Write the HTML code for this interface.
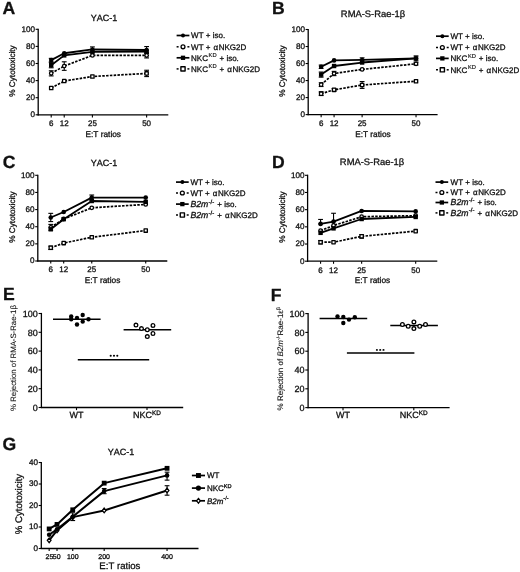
<!DOCTYPE html><html><head><meta charset="utf-8"><style>html,body{margin:0;padding:0;background:#fff;}svg{display:block;will-change:transform;} text{text-rendering:geometricPrecision;font-kerning:none;stroke:#111;stroke-width:0.3px;}</style></head><body><svg width="520" height="572" viewBox="0 0 520 572" font-family='"Liberation Sans", sans-serif' fill="#111" stroke-linejoin="round">
<rect width="520" height="572" fill="#fff"/>
<line x1="38.2" y1="28.7" x2="38.2" y2="115.4" stroke="#000" stroke-width="1.3"/>
<line x1="37.6" y1="114.8" x2="168.3" y2="114.8" stroke="#000" stroke-width="1.3"/>
<line x1="35.6" y1="114.8" x2="38.2" y2="114.8" stroke="#000" stroke-width="1.1"/>
<text x="35" y="117.1" font-size="8.1" text-anchor="end" font-weight="normal"  style="">0</text>
<line x1="35.6" y1="97.7" x2="38.2" y2="97.7" stroke="#000" stroke-width="1.1"/>
<text x="35" y="100" font-size="8.1" text-anchor="end" font-weight="normal"  style="">20</text>
<line x1="35.6" y1="80.6" x2="38.2" y2="80.6" stroke="#000" stroke-width="1.1"/>
<text x="35" y="82.9" font-size="8.1" text-anchor="end" font-weight="normal"  style="">40</text>
<line x1="35.6" y1="63.5" x2="38.2" y2="63.5" stroke="#000" stroke-width="1.1"/>
<text x="35" y="65.8" font-size="8.1" text-anchor="end" font-weight="normal"  style="">60</text>
<line x1="35.6" y1="46.4" x2="38.2" y2="46.4" stroke="#000" stroke-width="1.1"/>
<text x="35" y="48.7" font-size="8.1" text-anchor="end" font-weight="normal"  style="">80</text>
<line x1="35.6" y1="29.3" x2="38.2" y2="29.3" stroke="#000" stroke-width="1.1"/>
<text x="35" y="31.6" font-size="8.1" text-anchor="end" font-weight="normal"  style="">100</text>
<line x1="51.21" y1="114.8" x2="51.21" y2="117.4" stroke="#000" stroke-width="1.1"/>
<text x="51.21" y="126.1" font-size="8" text-anchor="middle" font-weight="normal"  style="">6</text>
<line x1="64.22" y1="114.8" x2="64.22" y2="117.4" stroke="#000" stroke-width="1.1"/>
<text x="64.22" y="126.1" font-size="8" text-anchor="middle" font-weight="normal"  style="">12</text>
<line x1="92.41" y1="114.8" x2="92.41" y2="117.4" stroke="#000" stroke-width="1.1"/>
<text x="92.41" y="126.1" font-size="8" text-anchor="middle" font-weight="normal"  style="">25</text>
<line x1="146.62" y1="114.8" x2="146.62" y2="117.4" stroke="#000" stroke-width="1.1"/>
<text x="146.62" y="126.1" font-size="8" text-anchor="middle" font-weight="normal"  style="">50</text>
<text x="103.25" y="137.2" font-size="8.3" text-anchor="middle" font-weight="normal"  style="">E:T ratios</text>
<text x="0" y="0" font-size="8.2" text-anchor="middle" font-weight="normal" transform="translate(14.8,71) rotate(-90)" style="">% Cytotoxicity</text>
<text x="104" y="20.6" font-size="9" text-anchor="middle" font-weight="normal"  style="">YAC-1</text>
<text x="2.6" y="13.9" font-size="17.6" text-anchor="start" font-weight="bold"  style="">A</text>
<polyline points="51.21,73.33 64.22,66.06 92.41,55.38 146.62,55.38" fill="none" stroke="#000" stroke-width="1.7" stroke-linejoin="round" stroke-dasharray="2.5,1.3"/>
<line x1="51.21" y1="70.77" x2="51.21" y2="75.9" stroke="#000" stroke-width="1.1"/>
<line x1="48.81" y1="70.77" x2="53.61" y2="70.77" stroke="#000" stroke-width="1.1"/>
<line x1="48.81" y1="75.9" x2="53.61" y2="75.9" stroke="#000" stroke-width="1.1"/>
<line x1="64.22" y1="61.79" x2="64.22" y2="70.34" stroke="#000" stroke-width="1.1"/>
<line x1="61.82" y1="61.79" x2="66.62" y2="61.79" stroke="#000" stroke-width="1.1"/>
<line x1="61.82" y1="70.34" x2="66.62" y2="70.34" stroke="#000" stroke-width="1.1"/>
<line x1="146.62" y1="52.81" x2="146.62" y2="57.94" stroke="#000" stroke-width="1.1"/>
<line x1="144.22" y1="52.81" x2="149.02" y2="52.81" stroke="#000" stroke-width="1.1"/>
<line x1="144.22" y1="57.94" x2="149.02" y2="57.94" stroke="#000" stroke-width="1.1"/>
<circle cx="51.21" cy="73.33" r="1.75" fill="#fff" stroke="#000" stroke-width="1.3"/>
<circle cx="64.22" cy="66.06" r="1.75" fill="#fff" stroke="#000" stroke-width="1.3"/>
<circle cx="92.41" cy="55.38" r="1.75" fill="#fff" stroke="#000" stroke-width="1.3"/>
<circle cx="146.62" cy="55.38" r="1.75" fill="#fff" stroke="#000" stroke-width="1.3"/>
<polyline points="51.21,88.04 64.22,81.03 92.41,76.5 146.62,73.42" fill="none" stroke="#000" stroke-width="1.7" stroke-linejoin="round" stroke-dasharray="2.5,1.3"/>
<line x1="146.62" y1="70.25" x2="146.62" y2="76.58" stroke="#000" stroke-width="1.1"/>
<line x1="144.22" y1="70.25" x2="149.02" y2="70.25" stroke="#000" stroke-width="1.1"/>
<line x1="144.22" y1="76.58" x2="149.02" y2="76.58" stroke="#000" stroke-width="1.1"/>
<rect x="49.56" y="86.39" width="3.3" height="3.3" fill="#fff" stroke="#000" stroke-width="1.3"/>
<rect x="62.57" y="79.38" width="3.3" height="3.3" fill="#fff" stroke="#000" stroke-width="1.3"/>
<rect x="90.76" y="74.85" width="3.3" height="3.3" fill="#fff" stroke="#000" stroke-width="1.3"/>
<rect x="144.97" y="71.77" width="3.3" height="3.3" fill="#fff" stroke="#000" stroke-width="1.3"/>
<polyline points="51.21,65.21 64.22,55.38 92.41,51.96 146.62,51.53" fill="none" stroke="#000" stroke-width="1.8" stroke-linejoin="round"/>
<line x1="51.21" y1="62.64" x2="51.21" y2="67.78" stroke="#000" stroke-width="1.1"/>
<line x1="48.81" y1="62.64" x2="53.61" y2="62.64" stroke="#000" stroke-width="1.1"/>
<line x1="48.81" y1="67.78" x2="53.61" y2="67.78" stroke="#000" stroke-width="1.1"/>
<rect x="49.01" y="63.01" width="4.4" height="4.4" fill="#000"/>
<rect x="62.02" y="53.18" width="4.4" height="4.4" fill="#000"/>
<rect x="90.21" y="49.76" width="4.4" height="4.4" fill="#000"/>
<rect x="144.42" y="49.33" width="4.4" height="4.4" fill="#000"/>
<polyline points="51.21,60.08 64.22,53.24 92.41,49.48 146.62,49.99" fill="none" stroke="#000" stroke-width="1.8" stroke-linejoin="round"/>
<line x1="51.21" y1="58.37" x2="51.21" y2="61.79" stroke="#000" stroke-width="1.1"/>
<line x1="48.81" y1="58.37" x2="53.61" y2="58.37" stroke="#000" stroke-width="1.1"/>
<line x1="48.81" y1="61.79" x2="53.61" y2="61.79" stroke="#000" stroke-width="1.1"/>
<line x1="92.41" y1="46.91" x2="92.41" y2="52.04" stroke="#000" stroke-width="1.1"/>
<line x1="90.01" y1="46.91" x2="94.81" y2="46.91" stroke="#000" stroke-width="1.1"/>
<line x1="90.01" y1="52.04" x2="94.81" y2="52.04" stroke="#000" stroke-width="1.1"/>
<line x1="146.62" y1="46.57" x2="146.62" y2="53.41" stroke="#000" stroke-width="1.1"/>
<line x1="144.22" y1="46.57" x2="149.02" y2="46.57" stroke="#000" stroke-width="1.1"/>
<line x1="144.22" y1="53.41" x2="149.02" y2="53.41" stroke="#000" stroke-width="1.1"/>
<circle cx="51.21" cy="60.08" r="2.3" fill="#000"/>
<circle cx="64.22" cy="53.24" r="2.3" fill="#000"/>
<circle cx="92.41" cy="49.48" r="2.3" fill="#000"/>
<circle cx="146.62" cy="49.99" r="2.3" fill="#000"/>
<line x1="308.2" y1="28.9" x2="308.2" y2="115.2" stroke="#000" stroke-width="1.3"/>
<line x1="307.6" y1="114.6" x2="437.6" y2="114.6" stroke="#000" stroke-width="1.3"/>
<line x1="305.6" y1="114.6" x2="308.2" y2="114.6" stroke="#000" stroke-width="1.1"/>
<text x="305" y="116.9" font-size="8.1" text-anchor="end" font-weight="normal"  style="">0</text>
<line x1="305.6" y1="97.58" x2="308.2" y2="97.58" stroke="#000" stroke-width="1.1"/>
<text x="305" y="99.88" font-size="8.1" text-anchor="end" font-weight="normal"  style="">20</text>
<line x1="305.6" y1="80.56" x2="308.2" y2="80.56" stroke="#000" stroke-width="1.1"/>
<text x="305" y="82.86" font-size="8.1" text-anchor="end" font-weight="normal"  style="">40</text>
<line x1="305.6" y1="63.54" x2="308.2" y2="63.54" stroke="#000" stroke-width="1.1"/>
<text x="305" y="65.84" font-size="8.1" text-anchor="end" font-weight="normal"  style="">60</text>
<line x1="305.6" y1="46.52" x2="308.2" y2="46.52" stroke="#000" stroke-width="1.1"/>
<text x="305" y="48.82" font-size="8.1" text-anchor="end" font-weight="normal"  style="">80</text>
<line x1="305.6" y1="29.5" x2="308.2" y2="29.5" stroke="#000" stroke-width="1.1"/>
<text x="305" y="31.8" font-size="8.1" text-anchor="end" font-weight="normal"  style="">100</text>
<line x1="321.14" y1="114.6" x2="321.14" y2="117.2" stroke="#000" stroke-width="1.1"/>
<text x="321.14" y="125.9" font-size="8" text-anchor="middle" font-weight="normal"  style="">6</text>
<line x1="334.08" y1="114.6" x2="334.08" y2="117.2" stroke="#000" stroke-width="1.1"/>
<text x="334.08" y="125.9" font-size="8" text-anchor="middle" font-weight="normal"  style="">12</text>
<line x1="362.12" y1="114.6" x2="362.12" y2="117.2" stroke="#000" stroke-width="1.1"/>
<text x="362.12" y="125.9" font-size="8" text-anchor="middle" font-weight="normal"  style="">25</text>
<line x1="416.03" y1="114.6" x2="416.03" y2="117.2" stroke="#000" stroke-width="1.1"/>
<text x="416.03" y="125.9" font-size="8" text-anchor="middle" font-weight="normal"  style="">50</text>
<text x="372.9" y="137.2" font-size="8.3" text-anchor="middle" font-weight="normal"  style="">E:T ratios</text>
<text x="0" y="0" font-size="8.2" text-anchor="middle" font-weight="normal" transform="translate(285.1,71) rotate(-90)" style="">% Cytotoxicity</text>
<text x="373" y="16.8" font-size="9.4" text-anchor="middle" font-weight="normal"  style="">RMA-S-Rae-1β</text>
<text x="272" y="13.9" font-size="17.6" text-anchor="start" font-weight="bold"  style="">B</text>
<polyline points="321.14,84.64 334.08,73.5 362.12,69.41 416.03,63.8" fill="none" stroke="#000" stroke-width="1.7" stroke-linejoin="round" stroke-dasharray="2.5,1.3"/>
<line x1="321.14" y1="82.77" x2="321.14" y2="86.52" stroke="#000" stroke-width="1.1"/>
<line x1="318.74" y1="82.77" x2="323.54" y2="82.77" stroke="#000" stroke-width="1.1"/>
<line x1="318.74" y1="86.52" x2="323.54" y2="86.52" stroke="#000" stroke-width="1.1"/>
<line x1="334.08" y1="71.37" x2="334.08" y2="75.62" stroke="#000" stroke-width="1.1"/>
<line x1="331.68" y1="71.37" x2="336.48" y2="71.37" stroke="#000" stroke-width="1.1"/>
<line x1="331.68" y1="75.62" x2="336.48" y2="75.62" stroke="#000" stroke-width="1.1"/>
<line x1="416.03" y1="62.52" x2="416.03" y2="65.07" stroke="#000" stroke-width="1.1"/>
<line x1="413.63" y1="62.52" x2="418.43" y2="62.52" stroke="#000" stroke-width="1.1"/>
<line x1="413.63" y1="65.07" x2="418.43" y2="65.07" stroke="#000" stroke-width="1.1"/>
<circle cx="321.14" cy="84.64" r="1.75" fill="#fff" stroke="#000" stroke-width="1.3"/>
<circle cx="334.08" cy="73.5" r="1.75" fill="#fff" stroke="#000" stroke-width="1.3"/>
<circle cx="362.12" cy="69.41" r="1.75" fill="#fff" stroke="#000" stroke-width="1.3"/>
<circle cx="416.03" cy="63.8" r="1.75" fill="#fff" stroke="#000" stroke-width="1.3"/>
<polyline points="321.14,93.67 334.08,89.84 362.12,84.99 416.03,81.24" fill="none" stroke="#000" stroke-width="1.7" stroke-linejoin="round" stroke-dasharray="2.5,1.3"/>
<line x1="321.14" y1="91.79" x2="321.14" y2="95.54" stroke="#000" stroke-width="1.1"/>
<line x1="318.74" y1="91.79" x2="323.54" y2="91.79" stroke="#000" stroke-width="1.1"/>
<line x1="318.74" y1="95.54" x2="323.54" y2="95.54" stroke="#000" stroke-width="1.1"/>
<line x1="334.08" y1="88.56" x2="334.08" y2="91.11" stroke="#000" stroke-width="1.1"/>
<line x1="331.68" y1="88.56" x2="336.48" y2="88.56" stroke="#000" stroke-width="1.1"/>
<line x1="331.68" y1="91.11" x2="336.48" y2="91.11" stroke="#000" stroke-width="1.1"/>
<line x1="362.12" y1="81.58" x2="362.12" y2="88.39" stroke="#000" stroke-width="1.1"/>
<line x1="359.72" y1="81.58" x2="364.52" y2="81.58" stroke="#000" stroke-width="1.1"/>
<line x1="359.72" y1="88.39" x2="364.52" y2="88.39" stroke="#000" stroke-width="1.1"/>
<rect x="319.49" y="92.02" width="3.3" height="3.3" fill="#fff" stroke="#000" stroke-width="1.3"/>
<rect x="332.43" y="88.19" width="3.3" height="3.3" fill="#fff" stroke="#000" stroke-width="1.3"/>
<rect x="360.47" y="83.34" width="3.3" height="3.3" fill="#fff" stroke="#000" stroke-width="1.3"/>
<rect x="414.38" y="79.59" width="3.3" height="3.3" fill="#fff" stroke="#000" stroke-width="1.3"/>
<polyline points="321.14,74.6 334.08,66.01 362.12,62.52 416.03,58.43" fill="none" stroke="#000" stroke-width="1.8" stroke-linejoin="round"/>
<line x1="321.14" y1="72.05" x2="321.14" y2="77.16" stroke="#000" stroke-width="1.1"/>
<line x1="318.74" y1="72.05" x2="323.54" y2="72.05" stroke="#000" stroke-width="1.1"/>
<line x1="318.74" y1="77.16" x2="323.54" y2="77.16" stroke="#000" stroke-width="1.1"/>
<rect x="318.94" y="72.4" width="4.4" height="4.4" fill="#000"/>
<rect x="331.88" y="63.81" width="4.4" height="4.4" fill="#000"/>
<rect x="359.92" y="60.32" width="4.4" height="4.4" fill="#000"/>
<rect x="413.83" y="56.23" width="4.4" height="4.4" fill="#000"/>
<polyline points="321.14,66.77 334.08,60.39 362.12,59.97 416.03,58.43" fill="none" stroke="#000" stroke-width="1.8" stroke-linejoin="round"/>
<line x1="321.14" y1="65.07" x2="321.14" y2="68.48" stroke="#000" stroke-width="1.1"/>
<line x1="318.74" y1="65.07" x2="323.54" y2="65.07" stroke="#000" stroke-width="1.1"/>
<line x1="318.74" y1="68.48" x2="323.54" y2="68.48" stroke="#000" stroke-width="1.1"/>
<line x1="362.12" y1="57.84" x2="362.12" y2="62.09" stroke="#000" stroke-width="1.1"/>
<line x1="359.72" y1="57.84" x2="364.52" y2="57.84" stroke="#000" stroke-width="1.1"/>
<line x1="359.72" y1="62.09" x2="364.52" y2="62.09" stroke="#000" stroke-width="1.1"/>
<line x1="416.03" y1="55.88" x2="416.03" y2="60.99" stroke="#000" stroke-width="1.1"/>
<line x1="413.63" y1="55.88" x2="418.43" y2="55.88" stroke="#000" stroke-width="1.1"/>
<line x1="413.63" y1="60.99" x2="418.43" y2="60.99" stroke="#000" stroke-width="1.1"/>
<circle cx="321.14" cy="66.77" r="2.3" fill="#000"/>
<circle cx="334.08" cy="60.39" r="2.3" fill="#000"/>
<circle cx="362.12" cy="59.97" r="2.3" fill="#000"/>
<circle cx="416.03" cy="58.43" r="2.3" fill="#000"/>
<line x1="37.8" y1="174.7" x2="37.8" y2="261.6" stroke="#000" stroke-width="1.3"/>
<line x1="37.2" y1="261" x2="167.3" y2="261" stroke="#000" stroke-width="1.3"/>
<line x1="35.2" y1="261" x2="37.8" y2="261" stroke="#000" stroke-width="1.1"/>
<text x="34.6" y="263.3" font-size="8.1" text-anchor="end" font-weight="normal"  style="">0</text>
<line x1="35.2" y1="243.86" x2="37.8" y2="243.86" stroke="#000" stroke-width="1.1"/>
<text x="34.6" y="246.16" font-size="8.1" text-anchor="end" font-weight="normal"  style="">20</text>
<line x1="35.2" y1="226.72" x2="37.8" y2="226.72" stroke="#000" stroke-width="1.1"/>
<text x="34.6" y="229.02" font-size="8.1" text-anchor="end" font-weight="normal"  style="">40</text>
<line x1="35.2" y1="209.58" x2="37.8" y2="209.58" stroke="#000" stroke-width="1.1"/>
<text x="34.6" y="211.88" font-size="8.1" text-anchor="end" font-weight="normal"  style="">60</text>
<line x1="35.2" y1="192.44" x2="37.8" y2="192.44" stroke="#000" stroke-width="1.1"/>
<text x="34.6" y="194.74" font-size="8.1" text-anchor="end" font-weight="normal"  style="">80</text>
<line x1="35.2" y1="175.3" x2="37.8" y2="175.3" stroke="#000" stroke-width="1.1"/>
<text x="34.6" y="177.6" font-size="8.1" text-anchor="end" font-weight="normal"  style="">100</text>
<line x1="50.75" y1="261" x2="50.75" y2="263.6" stroke="#000" stroke-width="1.1"/>
<text x="50.75" y="272.3" font-size="8" text-anchor="middle" font-weight="normal"  style="">6</text>
<line x1="63.7" y1="261" x2="63.7" y2="263.6" stroke="#000" stroke-width="1.1"/>
<text x="63.7" y="272.3" font-size="8" text-anchor="middle" font-weight="normal"  style="">12</text>
<line x1="91.76" y1="261" x2="91.76" y2="263.6" stroke="#000" stroke-width="1.1"/>
<text x="91.76" y="272.3" font-size="8" text-anchor="middle" font-weight="normal"  style="">25</text>
<line x1="145.72" y1="261" x2="145.72" y2="263.6" stroke="#000" stroke-width="1.1"/>
<text x="145.72" y="272.3" font-size="8" text-anchor="middle" font-weight="normal"  style="">50</text>
<text x="102.55" y="283" font-size="8.3" text-anchor="middle" font-weight="normal"  style="">E:T ratios</text>
<text x="0" y="0" font-size="8.2" text-anchor="middle" font-weight="normal" transform="translate(14.8,217) rotate(-90)" style="">% Cytotoxicity</text>
<text x="104" y="165.6" font-size="9" text-anchor="middle" font-weight="normal"  style="">YAC-1</text>
<text x="2.8" y="168" font-size="17.6" text-anchor="start" font-weight="bold"  style="">C</text>
<polyline points="50.75,227.32 63.7,219.01 91.76,207.78 145.72,204.44" fill="none" stroke="#000" stroke-width="1.7" stroke-linejoin="round" stroke-dasharray="2.5,1.3"/>
<line x1="50.75" y1="224.41" x2="50.75" y2="230.23" stroke="#000" stroke-width="1.1"/>
<line x1="48.35" y1="224.41" x2="53.15" y2="224.41" stroke="#000" stroke-width="1.1"/>
<line x1="48.35" y1="230.23" x2="53.15" y2="230.23" stroke="#000" stroke-width="1.1"/>
<circle cx="50.75" cy="227.32" r="1.75" fill="#fff" stroke="#000" stroke-width="1.3"/>
<circle cx="63.7" cy="219.01" r="1.75" fill="#fff" stroke="#000" stroke-width="1.3"/>
<circle cx="91.76" cy="207.78" r="1.75" fill="#fff" stroke="#000" stroke-width="1.3"/>
<circle cx="145.72" cy="204.44" r="1.75" fill="#fff" stroke="#000" stroke-width="1.3"/>
<polyline points="50.75,247.8 63.7,243.09 91.76,237.26 145.72,230.58" fill="none" stroke="#000" stroke-width="1.7" stroke-linejoin="round" stroke-dasharray="2.5,1.3"/>
<line x1="50.75" y1="246.09" x2="50.75" y2="249.52" stroke="#000" stroke-width="1.1"/>
<line x1="48.35" y1="246.09" x2="53.15" y2="246.09" stroke="#000" stroke-width="1.1"/>
<line x1="48.35" y1="249.52" x2="53.15" y2="249.52" stroke="#000" stroke-width="1.1"/>
<rect x="49.1" y="246.15" width="3.3" height="3.3" fill="#fff" stroke="#000" stroke-width="1.3"/>
<rect x="62.05" y="241.44" width="3.3" height="3.3" fill="#fff" stroke="#000" stroke-width="1.3"/>
<rect x="90.11" y="235.61" width="3.3" height="3.3" fill="#fff" stroke="#000" stroke-width="1.3"/>
<rect x="144.07" y="228.93" width="3.3" height="3.3" fill="#fff" stroke="#000" stroke-width="1.3"/>
<polyline points="50.75,229.29 63.7,219.18 91.76,201.01 145.72,201.87" fill="none" stroke="#000" stroke-width="1.8" stroke-linejoin="round"/>
<rect x="48.55" y="227.09" width="4.4" height="4.4" fill="#000"/>
<rect x="61.5" y="216.98" width="4.4" height="4.4" fill="#000"/>
<rect x="89.56" y="198.81" width="4.4" height="4.4" fill="#000"/>
<rect x="143.52" y="199.67" width="4.4" height="4.4" fill="#000"/>
<polyline points="50.75,217.46 63.7,211.98 91.76,197.58 145.72,197.58" fill="none" stroke="#000" stroke-width="1.8" stroke-linejoin="round"/>
<line x1="50.75" y1="213.35" x2="50.75" y2="221.58" stroke="#000" stroke-width="1.1"/>
<line x1="48.35" y1="213.35" x2="53.15" y2="213.35" stroke="#000" stroke-width="1.1"/>
<line x1="48.35" y1="221.58" x2="53.15" y2="221.58" stroke="#000" stroke-width="1.1"/>
<line x1="91.76" y1="195.01" x2="91.76" y2="200.15" stroke="#000" stroke-width="1.1"/>
<line x1="89.36" y1="195.01" x2="94.16" y2="195.01" stroke="#000" stroke-width="1.1"/>
<line x1="89.36" y1="200.15" x2="94.16" y2="200.15" stroke="#000" stroke-width="1.1"/>
<circle cx="50.75" cy="217.46" r="2.3" fill="#000"/>
<circle cx="63.7" cy="211.98" r="2.3" fill="#000"/>
<circle cx="91.76" cy="197.58" r="2.3" fill="#000"/>
<circle cx="145.72" cy="197.58" r="2.3" fill="#000"/>
<line x1="307.6" y1="174.7" x2="307.6" y2="261.8" stroke="#000" stroke-width="1.3"/>
<line x1="307" y1="261.2" x2="437.3" y2="261.2" stroke="#000" stroke-width="1.3"/>
<line x1="305" y1="261.2" x2="307.6" y2="261.2" stroke="#000" stroke-width="1.1"/>
<text x="304.4" y="263.5" font-size="8.1" text-anchor="end" font-weight="normal"  style="">0</text>
<line x1="305" y1="244.02" x2="307.6" y2="244.02" stroke="#000" stroke-width="1.1"/>
<text x="304.4" y="246.32" font-size="8.1" text-anchor="end" font-weight="normal"  style="">20</text>
<line x1="305" y1="226.84" x2="307.6" y2="226.84" stroke="#000" stroke-width="1.1"/>
<text x="304.4" y="229.14" font-size="8.1" text-anchor="end" font-weight="normal"  style="">40</text>
<line x1="305" y1="209.66" x2="307.6" y2="209.66" stroke="#000" stroke-width="1.1"/>
<text x="304.4" y="211.96" font-size="8.1" text-anchor="end" font-weight="normal"  style="">60</text>
<line x1="305" y1="192.48" x2="307.6" y2="192.48" stroke="#000" stroke-width="1.1"/>
<text x="304.4" y="194.78" font-size="8.1" text-anchor="end" font-weight="normal"  style="">80</text>
<line x1="305" y1="175.3" x2="307.6" y2="175.3" stroke="#000" stroke-width="1.1"/>
<text x="304.4" y="177.6" font-size="8.1" text-anchor="end" font-weight="normal"  style="">100</text>
<line x1="320.57" y1="261.2" x2="320.57" y2="263.8" stroke="#000" stroke-width="1.1"/>
<text x="320.57" y="272.5" font-size="8" text-anchor="middle" font-weight="normal"  style="">6</text>
<line x1="333.54" y1="261.2" x2="333.54" y2="263.8" stroke="#000" stroke-width="1.1"/>
<text x="333.54" y="272.5" font-size="8" text-anchor="middle" font-weight="normal"  style="">12</text>
<line x1="361.64" y1="261.2" x2="361.64" y2="263.8" stroke="#000" stroke-width="1.1"/>
<text x="361.64" y="272.5" font-size="8" text-anchor="middle" font-weight="normal"  style="">25</text>
<line x1="415.68" y1="261.2" x2="415.68" y2="263.8" stroke="#000" stroke-width="1.1"/>
<text x="415.68" y="272.5" font-size="8" text-anchor="middle" font-weight="normal"  style="">50</text>
<text x="372.45" y="283" font-size="8.3" text-anchor="middle" font-weight="normal"  style="">E:T ratios</text>
<text x="0" y="0" font-size="8.2" text-anchor="middle" font-weight="normal" transform="translate(285.1,217) rotate(-90)" style="">% Cytotoxicity</text>
<text x="372" y="164.7" font-size="9.4" text-anchor="middle" font-weight="normal"  style="">RMA-S-Rae-1β</text>
<text x="272" y="168" font-size="17.6" text-anchor="start" font-weight="bold"  style="">D</text>
<polyline points="320.57,230.71 333.54,225.47 361.64,216.7 415.68,215.67" fill="none" stroke="#000" stroke-width="1.7" stroke-linejoin="round" stroke-dasharray="2.5,1.3"/>
<circle cx="320.57" cy="230.71" r="1.75" fill="#fff" stroke="#000" stroke-width="1.3"/>
<circle cx="333.54" cy="225.47" r="1.75" fill="#fff" stroke="#000" stroke-width="1.3"/>
<circle cx="361.64" cy="216.7" r="1.75" fill="#fff" stroke="#000" stroke-width="1.3"/>
<circle cx="415.68" cy="215.67" r="1.75" fill="#fff" stroke="#000" stroke-width="1.3"/>
<polyline points="320.57,242.22 333.54,242.22 361.64,236.37 415.68,231.13" fill="none" stroke="#000" stroke-width="1.7" stroke-linejoin="round" stroke-dasharray="2.5,1.3"/>
<line x1="320.57" y1="240.5" x2="320.57" y2="243.93" stroke="#000" stroke-width="1.1"/>
<line x1="318.17" y1="240.5" x2="322.97" y2="240.5" stroke="#000" stroke-width="1.1"/>
<line x1="318.17" y1="243.93" x2="322.97" y2="243.93" stroke="#000" stroke-width="1.1"/>
<line x1="361.64" y1="234.66" x2="361.64" y2="238.09" stroke="#000" stroke-width="1.1"/>
<line x1="359.24" y1="234.66" x2="364.04" y2="234.66" stroke="#000" stroke-width="1.1"/>
<line x1="359.24" y1="238.09" x2="364.04" y2="238.09" stroke="#000" stroke-width="1.1"/>
<rect x="318.92" y="240.57" width="3.3" height="3.3" fill="#fff" stroke="#000" stroke-width="1.3"/>
<rect x="331.89" y="240.57" width="3.3" height="3.3" fill="#fff" stroke="#000" stroke-width="1.3"/>
<rect x="359.99" y="234.72" width="3.3" height="3.3" fill="#fff" stroke="#000" stroke-width="1.3"/>
<rect x="414.03" y="229.48" width="3.3" height="3.3" fill="#fff" stroke="#000" stroke-width="1.3"/>
<polyline points="320.57,232.85 333.54,228.39 361.64,219.02 415.68,216.96" fill="none" stroke="#000" stroke-width="1.8" stroke-linejoin="round"/>
<rect x="318.37" y="230.65" width="4.4" height="4.4" fill="#000"/>
<rect x="331.34" y="226.19" width="4.4" height="4.4" fill="#000"/>
<rect x="359.44" y="216.82" width="4.4" height="4.4" fill="#000"/>
<rect x="413.48" y="214.76" width="4.4" height="4.4" fill="#000"/>
<polyline points="320.57,223.92 333.54,221.6 361.64,210.95 415.68,211.38" fill="none" stroke="#000" stroke-width="1.8" stroke-linejoin="round"/>
<line x1="320.57" y1="219.45" x2="320.57" y2="223.92" stroke="#000" stroke-width="1.1"/>
<line x1="318.17" y1="219.45" x2="322.97" y2="219.45" stroke="#000" stroke-width="1.1"/>
<line x1="318.17" y1="223.92" x2="322.97" y2="223.92" stroke="#000" stroke-width="1.1"/>
<line x1="333.54" y1="213.27" x2="333.54" y2="221.6" stroke="#000" stroke-width="1.1"/>
<line x1="331.14" y1="213.27" x2="335.94" y2="213.27" stroke="#000" stroke-width="1.1"/>
<line x1="331.14" y1="221.6" x2="335.94" y2="221.6" stroke="#000" stroke-width="1.1"/>
<circle cx="320.57" cy="223.92" r="2.3" fill="#000"/>
<circle cx="333.54" cy="221.6" r="2.3" fill="#000"/>
<circle cx="361.64" cy="210.95" r="2.3" fill="#000"/>
<circle cx="415.68" cy="211.38" r="2.3" fill="#000"/>
<line x1="41.3" y1="461.9" x2="41.3" y2="549.1" stroke="#000" stroke-width="1.3"/>
<line x1="40.7" y1="548.5" x2="198.5" y2="548.5" stroke="#000" stroke-width="1.3"/>
<line x1="38.7" y1="548.5" x2="41.3" y2="548.5" stroke="#000" stroke-width="1.1"/>
<text x="38.1" y="550.8" font-size="8.1" text-anchor="end" font-weight="normal"  style="">0</text>
<line x1="38.7" y1="527" x2="41.3" y2="527" stroke="#000" stroke-width="1.1"/>
<text x="38.1" y="529.3" font-size="8.1" text-anchor="end" font-weight="normal"  style="">10</text>
<line x1="38.7" y1="505.5" x2="41.3" y2="505.5" stroke="#000" stroke-width="1.1"/>
<text x="38.1" y="507.8" font-size="8.1" text-anchor="end" font-weight="normal"  style="">20</text>
<line x1="38.7" y1="484" x2="41.3" y2="484" stroke="#000" stroke-width="1.1"/>
<text x="38.1" y="486.3" font-size="8.1" text-anchor="end" font-weight="normal"  style="">30</text>
<line x1="38.7" y1="462.5" x2="41.3" y2="462.5" stroke="#000" stroke-width="1.1"/>
<text x="38.1" y="464.8" font-size="8.1" text-anchor="end" font-weight="normal"  style="">40</text>
<line x1="49.16" y1="548.5" x2="49.16" y2="551.1" stroke="#000" stroke-width="1.1"/>
<text x="49.46" y="558.9" font-size="7.0" text-anchor="middle" font-weight="normal"  style="">25</text>
<line x1="57.02" y1="548.5" x2="57.02" y2="551.1" stroke="#000" stroke-width="1.1"/>
<text x="56.72" y="558.9" font-size="7.0" text-anchor="middle" font-weight="normal"  style="">50</text>
<line x1="72.74" y1="548.5" x2="72.74" y2="551.1" stroke="#000" stroke-width="1.1"/>
<text x="72.74" y="558.9" font-size="7.0" text-anchor="middle" font-weight="normal"  style="">100</text>
<line x1="104.18" y1="548.5" x2="104.18" y2="551.1" stroke="#000" stroke-width="1.1"/>
<text x="104.18" y="558.9" font-size="7.0" text-anchor="middle" font-weight="normal"  style="">200</text>
<line x1="167.06" y1="548.5" x2="167.06" y2="551.1" stroke="#000" stroke-width="1.1"/>
<text x="167.06" y="558.9" font-size="7.0" text-anchor="middle" font-weight="normal"  style="">400</text>
<text x="119.9" y="569.2" font-size="9.6" text-anchor="middle" font-weight="normal"  style="">E:T ratios</text>
<text x="0" y="0" font-size="9.6" text-anchor="middle" font-weight="normal" transform="translate(22,504) rotate(-90)" style="">% Cytotoxicity</text>
<text x="121" y="454.9" font-size="9" text-anchor="middle" font-weight="normal"  style="">YAC-1</text>
<text x="2.6" y="450" font-size="17.6" text-anchor="start" font-weight="bold"  style="">G</text>
<polyline points="49.16,540.33 57.02,530.44 72.74,517.11 104.18,510.44 167.06,490.45" fill="none" stroke="#000" stroke-width="2.0" stroke-linejoin="round"/>
<line x1="167.06" y1="485.72" x2="167.06" y2="495.18" stroke="#000" stroke-width="1.1"/>
<line x1="164.66" y1="485.72" x2="169.46" y2="485.72" stroke="#000" stroke-width="1.1"/>
<line x1="164.66" y1="495.18" x2="169.46" y2="495.18" stroke="#000" stroke-width="1.1"/>
<path d="M49.16,537.98 L51.01,540.33 L49.16,542.68 L47.31,540.33 Z" fill="#fff" stroke="#000" stroke-width="1.3" stroke-linejoin="miter"/>
<path d="M57.02,528.09 L58.87,530.44 L57.02,532.79 L55.17,530.44 Z" fill="#fff" stroke="#000" stroke-width="1.3" stroke-linejoin="miter"/>
<path d="M72.74,514.76 L74.59,517.11 L72.74,519.46 L70.89,517.11 Z" fill="#fff" stroke="#000" stroke-width="1.3" stroke-linejoin="miter"/>
<path d="M104.18,508.09 L106.03,510.44 L104.18,512.79 L102.33,510.44 Z" fill="#fff" stroke="#000" stroke-width="1.3" stroke-linejoin="miter"/>
<path d="M167.06,488.1 L168.91,490.45 L167.06,492.8 L165.21,490.45 Z" fill="#fff" stroke="#000" stroke-width="1.3" stroke-linejoin="miter"/>
<polyline points="49.16,534.74 57.02,529.37 72.74,516.68 104.18,491.1 167.06,475.4" fill="none" stroke="#000" stroke-width="2.0" stroke-linejoin="round"/>
<line x1="72.74" y1="512.81" x2="72.74" y2="520.55" stroke="#000" stroke-width="1.1"/>
<line x1="70.34" y1="512.81" x2="75.14" y2="512.81" stroke="#000" stroke-width="1.1"/>
<line x1="70.34" y1="520.55" x2="75.14" y2="520.55" stroke="#000" stroke-width="1.1"/>
<line x1="104.18" y1="488.51" x2="104.18" y2="493.68" stroke="#000" stroke-width="1.1"/>
<line x1="101.78" y1="488.51" x2="106.58" y2="488.51" stroke="#000" stroke-width="1.1"/>
<line x1="101.78" y1="493.68" x2="106.58" y2="493.68" stroke="#000" stroke-width="1.1"/>
<line x1="167.06" y1="472.18" x2="167.06" y2="480.13" stroke="#000" stroke-width="1.1"/>
<line x1="164.66" y1="472.18" x2="169.46" y2="472.18" stroke="#000" stroke-width="1.1"/>
<line x1="164.66" y1="480.13" x2="169.46" y2="480.13" stroke="#000" stroke-width="1.1"/>
<circle cx="49.16" cy="534.74" r="2.3" fill="#000"/>
<circle cx="57.02" cy="529.37" r="2.3" fill="#000"/>
<circle cx="72.74" cy="516.68" r="2.3" fill="#000"/>
<circle cx="104.18" cy="491.1" r="2.3" fill="#000"/>
<circle cx="167.06" cy="475.4" r="2.3" fill="#000"/>
<polyline points="49.16,528.93 57.02,524.42 72.74,509.8 104.18,483.14 167.06,468.31" fill="none" stroke="#000" stroke-width="2.0" stroke-linejoin="round"/>
<rect x="46.76" y="526.53" width="4.8" height="4.8" fill="#000"/>
<rect x="54.62" y="522.02" width="4.8" height="4.8" fill="#000"/>
<rect x="70.34" y="507.4" width="4.8" height="4.8" fill="#000"/>
<rect x="101.78" y="480.74" width="4.8" height="4.8" fill="#000"/>
<rect x="164.66" y="465.91" width="4.8" height="4.8" fill="#000"/>
<line x1="41.4" y1="312.9" x2="41.4" y2="408.1" stroke="#000" stroke-width="1.3"/>
<line x1="40.8" y1="407.5" x2="183.2" y2="407.5" stroke="#000" stroke-width="1.3"/>
<line x1="38.6" y1="407.5" x2="41.4" y2="407.5" stroke="#000" stroke-width="1.1"/>
<text x="37.8" y="410.75" font-size="9" text-anchor="end" font-weight="normal"  style="">0</text>
<line x1="38.6" y1="388.7" x2="41.4" y2="388.7" stroke="#000" stroke-width="1.1"/>
<text x="37.8" y="391.95" font-size="9" text-anchor="end" font-weight="normal"  style="">20</text>
<line x1="38.6" y1="369.9" x2="41.4" y2="369.9" stroke="#000" stroke-width="1.1"/>
<text x="37.8" y="373.15" font-size="9" text-anchor="end" font-weight="normal"  style="">40</text>
<line x1="38.6" y1="351.1" x2="41.4" y2="351.1" stroke="#000" stroke-width="1.1"/>
<text x="37.8" y="354.35" font-size="9" text-anchor="end" font-weight="normal"  style="">60</text>
<line x1="38.6" y1="332.3" x2="41.4" y2="332.3" stroke="#000" stroke-width="1.1"/>
<text x="37.8" y="335.55" font-size="9" text-anchor="end" font-weight="normal"  style="">80</text>
<line x1="38.6" y1="313.5" x2="41.4" y2="313.5" stroke="#000" stroke-width="1.1"/>
<text x="37.8" y="316.75" font-size="9" text-anchor="end" font-weight="normal"  style="">100</text>
<line x1="76.5" y1="407.5" x2="76.5" y2="410.1" stroke="#000" stroke-width="1.1"/>
<line x1="147" y1="407.5" x2="147" y2="410.1" stroke="#000" stroke-width="1.1"/>
<text x="76.5" y="418.3" font-size="9" text-anchor="middle" font-weight="normal"  style="">WT</text>
<text x="147" y="418.3" font-size="9" text-anchor="middle" font-weight="normal"  style="">NKC<tspan font-size="6.4" dy="-3.8">KD</tspan></text>
<text x="3" y="299.6" font-size="17.6" text-anchor="start" font-weight="bold"  style="">E</text>
<text x="0" y="0" font-size="7.8" text-anchor="middle" font-weight="normal" transform="translate(16.2,358) rotate(-90)" style="stroke-width:0.1px">% Rejection of RMA-S-Rae-1β</text>
<line x1="53" y1="319.3" x2="100.6" y2="319.3" stroke="#000" stroke-width="1.5"/>
<line x1="123.6" y1="329.7" x2="171.2" y2="329.7" stroke="#000" stroke-width="1.5"/>
<circle cx="71.2" cy="316.4" r="2.2" fill="#000"/>
<circle cx="71.2" cy="319.3" r="2.2" fill="#000"/>
<circle cx="77" cy="317.9" r="2.2" fill="#000"/>
<circle cx="82.7" cy="315" r="2.2" fill="#000"/>
<circle cx="82.7" cy="321.6" r="2.2" fill="#000"/>
<circle cx="77" cy="324.5" r="2.2" fill="#000"/>
<circle cx="88.5" cy="319.3" r="2.2" fill="#000"/>
<circle cx="136" cy="325.1" r="1.85" fill="#fff" stroke="#000" stroke-width="1.3"/>
<circle cx="141.5" cy="328.6" r="1.85" fill="#fff" stroke="#000" stroke-width="1.3"/>
<circle cx="147.3" cy="329.7" r="1.85" fill="#fff" stroke="#000" stroke-width="1.3"/>
<circle cx="153" cy="325.4" r="1.85" fill="#fff" stroke="#000" stroke-width="1.3"/>
<circle cx="153" cy="333.5" r="1.85" fill="#fff" stroke="#000" stroke-width="1.3"/>
<circle cx="147.3" cy="336.6" r="1.85" fill="#fff" stroke="#000" stroke-width="1.3"/>
<line x1="77.8" y1="359.8" x2="149.2" y2="359.8" stroke="#000" stroke-width="1.5"/>
<ellipse cx="110.7" cy="355.7" rx="1.05" ry="0.95" fill="#000"/>
<ellipse cx="114" cy="355.7" rx="1.05" ry="0.95" fill="#000"/>
<ellipse cx="117.3" cy="355.7" rx="1.05" ry="0.95" fill="#000"/>
<line x1="308.1" y1="313" x2="308.1" y2="408.2" stroke="#000" stroke-width="1.3"/>
<line x1="307.5" y1="407.6" x2="449.6" y2="407.6" stroke="#000" stroke-width="1.3"/>
<line x1="305.3" y1="407.6" x2="308.1" y2="407.6" stroke="#000" stroke-width="1.1"/>
<text x="304.5" y="410.85" font-size="9" text-anchor="end" font-weight="normal"  style="">0</text>
<line x1="305.3" y1="388.8" x2="308.1" y2="388.8" stroke="#000" stroke-width="1.1"/>
<text x="304.5" y="392.05" font-size="9" text-anchor="end" font-weight="normal"  style="">20</text>
<line x1="305.3" y1="370" x2="308.1" y2="370" stroke="#000" stroke-width="1.1"/>
<text x="304.5" y="373.25" font-size="9" text-anchor="end" font-weight="normal"  style="">40</text>
<line x1="305.3" y1="351.2" x2="308.1" y2="351.2" stroke="#000" stroke-width="1.1"/>
<text x="304.5" y="354.45" font-size="9" text-anchor="end" font-weight="normal"  style="">60</text>
<line x1="305.3" y1="332.4" x2="308.1" y2="332.4" stroke="#000" stroke-width="1.1"/>
<text x="304.5" y="335.65" font-size="9" text-anchor="end" font-weight="normal"  style="">80</text>
<line x1="305.3" y1="313.6" x2="308.1" y2="313.6" stroke="#000" stroke-width="1.1"/>
<text x="304.5" y="316.85" font-size="9" text-anchor="end" font-weight="normal"  style="">100</text>
<line x1="343" y1="407.6" x2="343" y2="410.2" stroke="#000" stroke-width="1.1"/>
<line x1="413.8" y1="407.6" x2="413.8" y2="410.2" stroke="#000" stroke-width="1.1"/>
<text x="343" y="418.4" font-size="9" text-anchor="middle" font-weight="normal"  style="">WT</text>
<text x="413.8" y="418.4" font-size="9" text-anchor="middle" font-weight="normal"  style="">NKC<tspan font-size="6.4" dy="-3.8">KD</tspan></text>
<text x="270.8" y="300.6" font-size="17.6" text-anchor="start" font-weight="bold"  style="">F</text>
<text x="0" y="0" font-size="8.0" text-anchor="middle" font-weight="normal" transform="translate(282.6,358.8) rotate(-90)" style="stroke-width:0.1px">% Rejection of <tspan font-style="italic">B2m</tspan><tspan font-size="5" dy="-2.8">-/-</tspan><tspan dy="2.8">Rae-1ε</tspan><tspan font-size="5" dy="-2.8">β</tspan></text>
<line x1="319.6" y1="318.5" x2="367.2" y2="318.5" stroke="#000" stroke-width="1.5"/>
<line x1="390.3" y1="325.4" x2="437.9" y2="325.4" stroke="#000" stroke-width="1.5"/>
<circle cx="337.5" cy="316.4" r="2.2" fill="#000"/>
<circle cx="343.3" cy="317" r="2.2" fill="#000"/>
<circle cx="349" cy="319.6" r="2.2" fill="#000"/>
<circle cx="354.8" cy="317.3" r="2.2" fill="#000"/>
<circle cx="343.3" cy="323" r="2.2" fill="#000"/>
<circle cx="402.4" cy="324.5" r="1.85" fill="#fff" stroke="#000" stroke-width="1.3"/>
<circle cx="408.2" cy="326.2" r="1.85" fill="#fff" stroke="#000" stroke-width="1.3"/>
<circle cx="413.9" cy="321.9" r="1.85" fill="#fff" stroke="#000" stroke-width="1.3"/>
<circle cx="413.9" cy="328.6" r="1.85" fill="#fff" stroke="#000" stroke-width="1.3"/>
<circle cx="419.7" cy="326.2" r="1.85" fill="#fff" stroke="#000" stroke-width="1.3"/>
<circle cx="425.5" cy="324.5" r="1.85" fill="#fff" stroke="#000" stroke-width="1.3"/>
<line x1="346.9" y1="352.9" x2="414.4" y2="352.9" stroke="#000" stroke-width="1.5"/>
<ellipse cx="376.9" cy="349.9" rx="1.05" ry="0.95" fill="#000"/>
<ellipse cx="380.2" cy="349.9" rx="1.05" ry="0.95" fill="#000"/>
<ellipse cx="383.5" cy="349.9" rx="1.05" ry="0.95" fill="#000"/>
<line x1="176.6" y1="35.5" x2="189.4" y2="35.5" stroke="#000" stroke-width="1.7"/>
<circle cx="183" cy="35.5" r="2" fill="#000"/>
<text x="191.1" y="38.4" font-size="8">WT + iso.</text>
<line x1="176.6" y1="46.8" x2="178.6" y2="46.8" stroke="#000" stroke-width="1.5"/>
<line x1="187.4" y1="46.8" x2="189.4" y2="46.8" stroke="#000" stroke-width="1.5"/>
<circle cx="183" cy="46.8" r="1.95" fill="#fff" stroke="#000" stroke-width="1.3"/>
<text x="191.1" y="49.7" font-size="8">WT + <tspan dx="0.9">α</tspan><tspan dx="0.5">NKG2D</tspan></text>
<line x1="176.6" y1="57.8" x2="189.4" y2="57.8" stroke="#000" stroke-width="1.7"/>
<rect x="180.85" y="55.65" width="4.3" height="4.3" fill="#000"/>
<text x="191.1" y="60.7" font-size="8">NKC<tspan font-size="5.8" dy="-3.4" dx="0.6" style="stroke-width:0.15px">KD</tspan><tspan dy="3.4" dx="0.6"> </tspan>+ iso.</text>
<line x1="176.6" y1="68.9" x2="178.6" y2="68.9" stroke="#000" stroke-width="1.5"/>
<line x1="187.4" y1="68.9" x2="189.4" y2="68.9" stroke="#000" stroke-width="1.5"/>
<rect x="180.9" y="66.8" width="4.2" height="4.2" fill="#fff" stroke="#000" stroke-width="1.4"/>
<text x="191.1" y="71.8" font-size="8">NKC<tspan font-size="5.8" dy="-3.4" dx="0.6" style="stroke-width:0.15px">KD</tspan><tspan dy="3.4" dx="0.6"> </tspan>+ <tspan dx="0.9">α</tspan><tspan dx="0.5">NKG2D</tspan></text>
<line x1="436" y1="36.2" x2="448.7" y2="36.2" stroke="#000" stroke-width="1.7"/>
<circle cx="442.35" cy="36.2" r="2" fill="#000"/>
<text x="450.4" y="39.1" font-size="8">WT + iso.</text>
<line x1="436" y1="47.5" x2="438" y2="47.5" stroke="#000" stroke-width="1.5"/>
<line x1="446.7" y1="47.5" x2="448.7" y2="47.5" stroke="#000" stroke-width="1.5"/>
<circle cx="442.35" cy="47.5" r="1.95" fill="#fff" stroke="#000" stroke-width="1.3"/>
<text x="450.4" y="50.4" font-size="8">WT + <tspan dx="0.9">α</tspan><tspan dx="0.5">NKG2D</tspan></text>
<line x1="436" y1="58.4" x2="448.7" y2="58.4" stroke="#000" stroke-width="1.7"/>
<rect x="440.2" y="56.25" width="4.3" height="4.3" fill="#000"/>
<text x="450.4" y="61.3" font-size="8">NKC<tspan font-size="5.8" dy="-3.4" dx="0.6" style="stroke-width:0.15px">KD</tspan><tspan dy="3.4" dx="0.6"> </tspan>+ iso.</text>
<line x1="436" y1="69.8" x2="438" y2="69.8" stroke="#000" stroke-width="1.5"/>
<line x1="446.7" y1="69.8" x2="448.7" y2="69.8" stroke="#000" stroke-width="1.5"/>
<rect x="440.25" y="67.7" width="4.2" height="4.2" fill="#fff" stroke="#000" stroke-width="1.4"/>
<text x="450.4" y="72.7" font-size="8">NKC<tspan font-size="5.8" dy="-3.4" dx="0.6" style="stroke-width:0.15px">KD</tspan><tspan dy="3.4" dx="0.6"> </tspan>+ <tspan dx="0.9">α</tspan><tspan dx="0.5">NKG2D</tspan></text>
<line x1="176" y1="182.1" x2="188.7" y2="182.1" stroke="#000" stroke-width="1.7"/>
<circle cx="182.35" cy="182.1" r="2" fill="#000"/>
<text x="190.4" y="185" font-size="8">WT + iso.</text>
<line x1="176" y1="193" x2="178" y2="193" stroke="#000" stroke-width="1.5"/>
<line x1="186.7" y1="193" x2="188.7" y2="193" stroke="#000" stroke-width="1.5"/>
<circle cx="182.35" cy="193" r="1.95" fill="#fff" stroke="#000" stroke-width="1.3"/>
<text x="190.4" y="195.9" font-size="8">WT + <tspan dx="0.9">α</tspan><tspan dx="0.5">NKG2D</tspan></text>
<line x1="176" y1="204.1" x2="188.7" y2="204.1" stroke="#000" stroke-width="1.7"/>
<rect x="180.2" y="201.95" width="4.3" height="4.3" fill="#000"/>
<text x="190.4" y="207" font-size="8"><tspan font-style="italic" font-size="8.7">B2m</tspan><tspan font-size="6" dy="-3.4" dx="0.3">-/-</tspan><tspan dy="3.4" dx="0.8"> </tspan>+ iso.</text>
<line x1="176" y1="215" x2="178" y2="215" stroke="#000" stroke-width="1.5"/>
<line x1="186.7" y1="215" x2="188.7" y2="215" stroke="#000" stroke-width="1.5"/>
<rect x="180.25" y="212.9" width="4.2" height="4.2" fill="#fff" stroke="#000" stroke-width="1.4"/>
<text x="190.4" y="217.9" font-size="8"><tspan font-style="italic" font-size="8.7">B2m</tspan><tspan font-size="6" dy="-3.4" dx="0.3">-/-</tspan><tspan dy="3.4" dx="0.8"> </tspan>+ <tspan dx="0.9">α</tspan><tspan dx="0.5">NKG2D</tspan></text>
<line x1="435.5" y1="182.1" x2="448.2" y2="182.1" stroke="#000" stroke-width="1.7"/>
<circle cx="441.85" cy="182.1" r="2" fill="#000"/>
<text x="450.6" y="185" font-size="8">WT + iso.</text>
<line x1="435.5" y1="192.5" x2="437.5" y2="192.5" stroke="#000" stroke-width="1.5"/>
<line x1="446.2" y1="192.5" x2="448.2" y2="192.5" stroke="#000" stroke-width="1.5"/>
<circle cx="441.85" cy="192.5" r="1.95" fill="#fff" stroke="#000" stroke-width="1.3"/>
<text x="450.6" y="195.4" font-size="8">WT + <tspan dx="0.9">α</tspan><tspan dx="0.5">NKG2D</tspan></text>
<line x1="435.5" y1="202.5" x2="448.2" y2="202.5" stroke="#000" stroke-width="1.7"/>
<rect x="439.7" y="200.35" width="4.3" height="4.3" fill="#000"/>
<text x="450.6" y="205.4" font-size="8"><tspan font-style="italic" font-size="8.7">B2m</tspan><tspan font-size="6" dy="-3.4" dx="0.3">-/-</tspan><tspan dy="3.4" dx="0.8"> </tspan>+ iso.</text>
<line x1="435.5" y1="212.9" x2="437.5" y2="212.9" stroke="#000" stroke-width="1.5"/>
<line x1="446.2" y1="212.9" x2="448.2" y2="212.9" stroke="#000" stroke-width="1.5"/>
<rect x="439.75" y="210.8" width="4.2" height="4.2" fill="#fff" stroke="#000" stroke-width="1.4"/>
<text x="450.6" y="215.8" font-size="8"><tspan font-style="italic" font-size="8.7">B2m</tspan><tspan font-size="6" dy="-3.4" dx="0.3">-/-</tspan><tspan dy="3.4" dx="0.8"> </tspan>+ <tspan dx="0.9">α</tspan><tspan dx="0.5">NKG2D</tspan></text>
<line x1="191.9" y1="475.5" x2="205" y2="475.5" stroke="#000" stroke-width="1.7"/>
<rect x="196" y="473.05" width="4.9" height="4.9" fill="#000"/>
<text x="206.9" y="478.4" font-size="8">WT</text>
<line x1="191.9" y1="488.1" x2="205" y2="488.1" stroke="#000" stroke-width="1.7"/>
<circle cx="198.45" cy="488.1" r="2.6" fill="#000"/>
<text x="206.9" y="491" font-size="8">NKC<tspan font-size="5.6" dy="-3.4">KD</tspan></text>
<line x1="191.9" y1="500.8" x2="205" y2="500.8" stroke="#000" stroke-width="1.7"/>
<path d="M198.45,498.45 L200.3,500.8 L198.45,503.15 L196.6,500.8 Z" fill="#fff" stroke="#000" stroke-width="1.3" stroke-linejoin="miter"/>
<text x="206.9" y="503.7" font-size="8"><tspan font-style="italic">B2m</tspan><tspan font-size="5.6" dy="-3.4">-/-</tspan></text>
</svg></body></html>
